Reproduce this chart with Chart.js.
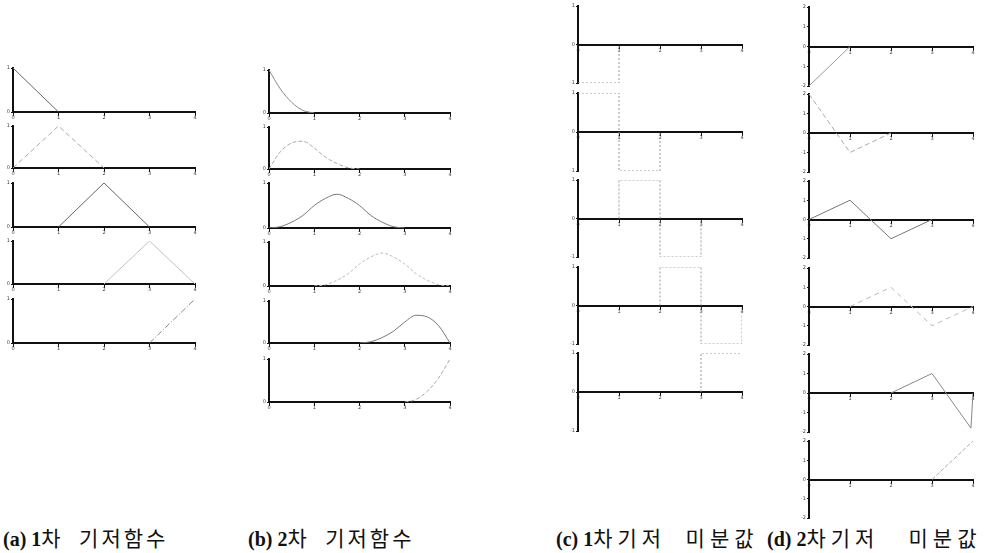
<!DOCTYPE html>
<html>
<head>
<meta charset="utf-8">
<script src="https://cdn.jsdelivr.net/npm/chart.js"></script>
<style>
body { margin: 0; background: #fff; width: 984px; height: 553px; position: relative; overflow: hidden; }
.plot { position: absolute; }
.cap { position: absolute; top: 524px; line-height: 26px; font-family: "Liberation Serif", serif; font-weight: bold; font-size: 20px; color: #111; white-space: pre; }
.cap span { font-family: "Noto Sans CJK KR", sans-serif; font-weight: normal; font-size: 21px; letter-spacing: 3px; }
.cap span.wide { letter-spacing: 5px; }
</style>
</head>
<body>
<div class="cap" style="left:3px">(a) 1<span>차  기저함수</span></div>
<div class="cap" style="left:248px">(b) 2<span>차  기저함수</span></div>
<div class="cap" style="left:556px">(c) 1<span class="wide">차기저  미분값</span></div>
<div class="cap" style="left:767px">(d) 2<span class="wide">차기저   미분값</span></div>
<script>
const xTicks = [0, 1, 2, 3, 4];

// (a) 1st order basis, [x, y]
const a1 = [[0, 1], [1, 0]];
const a2 = [[0, 0], [1, 1], [2, 0]];
const a3 = [[1, 0], [2, 1], [3, 0]];
const a4 = [[2, 0], [3, 1], [4, 0]];
const a5 = [[3, 0], [4, 1]];

// (b) 2nd order basis
const b1 = [[0, 1], [0.25, 0.56], [0.5, 0.25], [0.75, 0.06], [1, 0]];
const b2 = [[0, 0], [0.25, 0.41], [0.5, 0.62], [0.75, 0.66], [1, 0.5], [1.25, 0.28], [1.5, 0.13], [1.75, 0.03], [2, 0]];
const b3 = [[0, 0], [0.25, 0.03], [0.5, 0.13], [0.75, 0.28], [1, 0.5], [1.25, 0.66], [1.5, 0.75], [1.75, 0.66], [2, 0.5], [2.25, 0.28], [2.5, 0.13], [2.75, 0.03], [3, 0]];
const b4 = [[1, 0], [1.25, 0.03], [1.5, 0.13], [1.75, 0.28], [2, 0.5], [2.25, 0.66], [2.5, 0.75], [2.75, 0.66], [3, 0.5], [3.25, 0.28], [3.5, 0.13], [3.75, 0.03], [4, 0]];
const b5 = [[2, 0], [2.25, 0.03], [2.5, 0.13], [2.75, 0.28], [3, 0.5], [3.25, 0.66], [3.5, 0.62], [3.75, 0.41], [4, 0]];
const b6 = [[3, 0], [3.25, 0.06], [3.5, 0.25], [3.75, 0.56], [4, 1]];

// (c) derivative of 1st order basis (step values)
const c1 = [[0, -1], [1, 0]];
const c2 = [[0, 1], [1, -1], [2, 0]];
const c3 = [[1, 0], [1, 1], [2, -1], [3, 0]];
const c4 = [[2, 0], [2, 1], [3, -1], [4, 0]];
const c5 = [[3, 0], [3, 1], [4, 1]];

// (d) derivative of 2nd order basis
const d1 = [[0, -2], [1, 0]];
const d2 = [[0, 2], [1, -1], [2, 0]];
const d3 = [[0, 0], [1, 1], [2, -1], [3, 0]];
const d4 = [[1, 0], [2, 1], [3, -1], [4, 0]];
const d5 = [[2, 0], [3, 1], [3.95, -1.8], [4, 0]];
const d6 = [[3, 0], [4, 2]];

const PAD_L = 14, PAD_T = 6, PAD_R = 6, PAD_B = 10, Y_W = 12;

function makePlot(left, right, top, bottom, yMin, yMax, pts, color, dash, extra) {
    const div = document.createElement("div");
    div.className = "plot";
    div.style.left = (left - PAD_L) + "px";
    div.style.top = (top - PAD_T) + "px";
    const cv = document.createElement("canvas");
    cv.width = right - left + PAD_L + PAD_R;
    cv.height = bottom - top + PAD_T + PAD_B;
    div.appendChild(cv);
    document.body.appendChild(div);

    const tickFont = { size: 5, family: "DejaVu Sans" };
    new Chart(cv, {
        type: 'line',
        data: {
            datasets: [Object.assign({
                data: pts.map(p => ({ x: p[0], y: p[1] })),
                borderColor: color,
                borderWidth: 1,
                borderDash: dash,
                pointRadius: 0,
                fill: false,
            }, extra || {})],
        },
        options: {
            responsive: false,
            animation: false,
            events: [],
            layout: { padding: { left: PAD_L - Y_W, top: PAD_T, right: PAD_R, bottom: PAD_B } },
            plugins: { legend: { display: false }, tooltip: { enabled: false } },
            scales: {
                x: {
                    type: 'linear',
                    min: 0,
                    max: 4,
                    position: { y: 0 },
                    afterBuildTicks: s => { s.ticks = xTicks.map(v => ({ value: v })); },
                    ticks: { font: tickFont, color: '#444', padding: 0, maxRotation: 0, autoSkip: false },
                    grid: { drawOnChartArea: false, tickLength: 3, color: '#111' },
                    border: { color: '#111', width: 2 },
                },
                y: {
                    min: yMin,
                    max: yMax,
                    afterFit: s => { s.width = Y_W; },
                    ticks: { stepSize: 1, font: tickFont, color: '#444', padding: 1 },
                    grid: { drawOnChartArea: false, tickLength: 2, color: '#111' },
                    border: { color: '#111', width: 2 },
                },
            },
        },
    });
}

// panel (a)
const aTops = [68, 126, 183, 241, 299], aBots = [112, 168, 227, 284, 343];
const aColors = ['#666', '#aaa', '#666', '#c2c2c2', '#888'];
const aDash = [[], [5, 3], [], [], [6, 2, 1, 2]];
[a1, a2, a3, a4, a5].forEach((d, i) =>
    makePlot(13, 195, aTops[i], aBots[i], 0, 1, d, aColors[i], aDash[i]));

// panel (b)
const bTops = [70, 127, 183, 242, 301, 359], bBots = [113, 169, 228, 286, 343, 402];
const bColors = ['#888', '#aaa', '#777', '#bbb', '#777', '#aaa'];
const bDash = [[], [4, 2], [], [3, 2], [], [4, 2]];
[b1, b2, b3, b4, b5, b6].forEach((d, i) =>
    makePlot(269, 450, bTops[i], bBots[i], 0, 1, d, bColors[i], bDash[i], { cubicInterpolationMode: 'monotone' }));

// panel (c)
const cTops = [6, 93, 180, 267, 353], cBots = [83, 171, 257, 344, 431];
[c1, c2, c3, c4, c5].forEach((d, i) =>
    makePlot(578, 742, cTops[i], cBots[i], -1, 1, d, '#999', [2, 2], { stepped: 'before' }));

// panel (d)
const dTops = [7, 94, 181, 268, 354, 441], dBots = [86, 172, 258, 345, 432, 518];
const dColors = ['#999', '#aaa', '#777', '#bbb', '#888', '#aaa'];
const dDash = [[], [5, 3], [], [5, 4], [], [4, 2]];
[d1, d2, d3, d4, d5, d6].forEach((d, i) =>
    makePlot(809, 973, dTops[i], dBots[i], -2, 2, d, dColors[i], dDash[i]));
</script>
</body>
</html>
